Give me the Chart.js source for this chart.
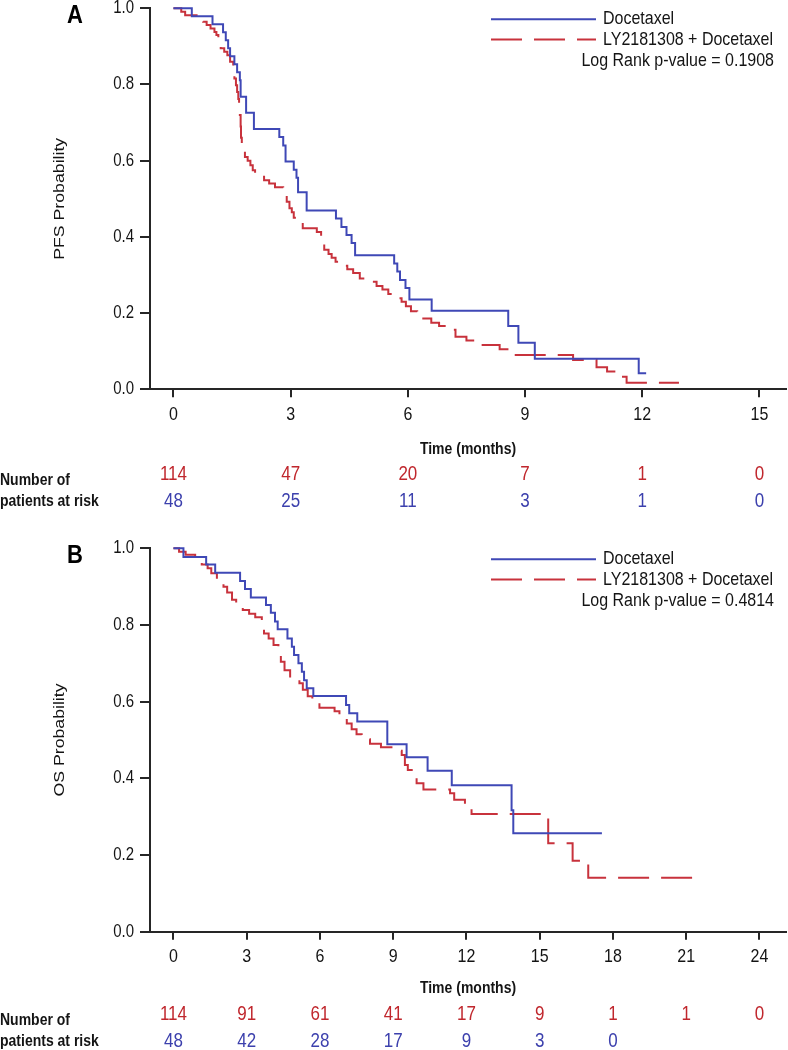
<!DOCTYPE html>
<html><head><meta charset="utf-8">
<script src="https://cdn.jsdelivr.net/npm/chart.js@4.4.1/dist/chart.umd.min.js"></script>
<style>
html,body{margin:0;padding:0;background:#fff;}
#wrap{position:relative;width:788px;height:1050px;overflow:hidden;background:#fff;}
canvas{position:absolute;left:0;}
#cA{top:0;} #cB{top:520px;}
</style></head><body>
<div id="wrap">
<canvas id="cA" width="788" height="520"></canvas>
<canvas id="cB" width="788" height="530"></canvas>
</div>
<script>
// ---------- DATA ----------
const pfsTicks = [0, 3, 6, 9, 12, 15];
const osTicks = [0, 3, 6, 9, 12, 15, 18, 21, 24];
const probTicks = [0, 0.2, 0.4, 0.6, 0.8, 1.0];

const seriesNames = ['Docetaxel', 'LY2181308 + Docetaxel'];
const pfsPValue = 'Log Rank p-value = 0.1908';
const osPValue = 'Log Rank p-value = 0.4814';

// PFS, Docetaxel
const pfsDoceT = [0, 0.47, 1.0, 1.27, 1.34, 1.40, 1.45, 1.56, 1.63, 1.70, 1.72, 1.86, 2.06, 2.71, 2.81, 2.87, 3.08, 3.15, 3.19, 3.41, 4.16, 4.30, 4.43, 4.56, 4.65, 5.65, 5.73, 5.80, 5.94, 6.04, 6.61, 8.57, 8.83, 9.25, 11.91, 12.1];
const pfsDoceS = [1.0, 0.979, 0.958, 0.937, 0.916, 0.895, 0.874, 0.853, 0.832, 0.811, 0.768, 0.726, 0.683, 0.662, 0.640, 0.598, 0.576, 0.555, 0.517, 0.469, 0.448, 0.426, 0.405, 0.384, 0.352, 0.330, 0.309, 0.287, 0.266, 0.236, 0.206, 0.166, 0.122, 0.080, 0.042, 0.042];
// PFS, LY2181308 + Docetaxel
const pfsComboT = [0, 0.2, 0.3, 0.76, 0.85, 0.95, 1.05, 1.10, 1.15, 1.21, 1.30, 1.38, 1.45, 1.53, 1.56, 1.60, 1.63, 1.66, 1.68, 1.70, 1.72, 1.73, 1.75, 1.83, 1.90, 1.97, 2.03, 2.09, 2.32, 2.45, 2.60, 2.81, 2.90, 2.97, 3.03, 3.08, 3.14, 3.31, 3.67, 3.78, 3.86, 3.97, 4.05, 4.15, 4.26, 4.45, 4.60, 4.77, 4.94, 5.20, 5.35, 5.50, 5.63, 5.84, 5.95, 6.08, 6.24, 6.60, 6.80, 7.03, 7.22, 7.50, 7.76, 8.35, 8.61, 10.23, 10.83, 11.10, 11.34, 11.60, 12.94];
const pfsComboS = [1.0, 0.991, 0.982, 0.965, 0.956, 0.947, 0.938, 0.930, 0.921, 0.895, 0.886, 0.877, 0.860, 0.833, 0.816, 0.798, 0.780, 0.762, 0.745, 0.720, 0.690, 0.660, 0.632, 0.610, 0.600, 0.588, 0.575, 0.558, 0.549, 0.540, 0.530, 0.516, 0.492, 0.475, 0.465, 0.450, 0.437, 0.423, 0.413, 0.387, 0.366, 0.355, 0.345, 0.335, 0.324, 0.315, 0.305, 0.291, 0.282, 0.271, 0.262, 0.250, 0.239, 0.230, 0.218, 0.205, 0.186, 0.175, 0.166, 0.156, 0.138, 0.128, 0.116, 0.105, 0.090, 0.077, 0.058, 0.047, 0.033, 0.017, 0.017];

// OS, Docetaxel
const osDoceT = [0, 0.41, 1.34, 1.71, 2.73, 2.93, 3.17, 3.79, 3.99, 4.16, 4.27, 4.67, 4.85, 4.94, 5.12, 5.26, 5.35, 5.46, 5.73, 7.07, 7.20, 7.53, 8.76, 9.55, 10.41, 11.40, 13.85, 13.92, 17.55];
const osDoceS = [1.0, 0.977, 0.958, 0.936, 0.915, 0.894, 0.872, 0.852, 0.832, 0.809, 0.789, 0.765, 0.743, 0.722, 0.700, 0.678, 0.656, 0.635, 0.615, 0.591, 0.570, 0.548, 0.489, 0.455, 0.420, 0.382, 0.317, 0.257, 0.257];
// OS, LY2181308 + Docetaxel
const osComboT = [0, 0.23, 0.5, 0.89, 1.16, 1.4, 1.55, 1.78, 2.05, 2.2, 2.4, 2.57, 2.84, 3.1, 3.35, 3.62, 3.71, 3.9, 4.1, 4.3, 4.4, 4.55, 4.78, 5.16, 5.3, 5.5, 5.69, 5.98, 6.6, 6.8, 7.1, 7.3, 7.5, 7.71, 8.05, 8.5, 9.0, 9.35, 9.48, 9.6, 9.76, 9.96, 10.24, 11.33, 11.5, 11.94, 12.21, 15.35, 16.35, 16.99, 21.56];
const osComboS = [1.0, 0.991, 0.983, 0.972, 0.958, 0.948, 0.935, 0.913, 0.9, 0.885, 0.866, 0.85, 0.839, 0.829, 0.82, 0.809, 0.778, 0.765, 0.748, 0.733, 0.704, 0.682, 0.656, 0.648, 0.631, 0.614, 0.597, 0.584, 0.575, 0.557, 0.543, 0.528, 0.515, 0.502, 0.49, 0.481, 0.472, 0.461, 0.435, 0.422, 0.409, 0.387, 0.371, 0.361, 0.344, 0.326, 0.307, 0.231, 0.185, 0.141, 0.141];

// Number of patients at risk
const pfsRiskCombo = [114, 47, 20, 7, 1, 0];
const pfsRiskDoce = [48, 25, 11, 3, 1, 0];
const osRiskCombo = [114, 91, 61, 41, 17, 9, 1, 1, 0];
const osRiskDoce = [48, 42, 28, 17, 9, 3, 0];

// ---------- STYLE ----------
const BLUE = '#3f48b6';
const RED = '#c8323c';
const RISK_RED = '#c0272d';
const RISK_BLUE = '#3c40ad';
const AXIS = '#262626';
const TXT = '#141414';
const FONT = '"Liberation Sans", Arial, Helvetica, sans-serif';
const SY = 1.18; // vertical stretch of text

function pts(t, s) { return t.map((v, i) => ({ x: v, y: s[i] })); }

function sText(ctx, txt, x, y) {
  ctx.save();
  ctx.translate(x, y);
  ctx.scale(1, SY);
  ctx.fillText(txt, 0, 0);
  ctx.restore();
}

const kmPlugin = {
  id: 'km',
  afterDraw(chart, args, o) {
    const ctx = chart.ctx, ca = chart.chartArea, xs = chart.scales.x, ys = chart.scales.y;
    ctx.save();
    ctx.textBaseline = 'middle';
    // tick labels
    ctx.fillStyle = TXT;
    ctx.font = '15px ' + FONT;
    ctx.textAlign = 'right';
    probTicks.forEach(v => sText(ctx, v.toFixed(1), 134, ys.getPixelForValue(v)));
    ctx.font = '16px ' + FONT;
    ctx.textAlign = 'center';
    o.ticks.forEach(v => sText(ctx, String(v), xs.getPixelForValue(v), ca.bottom + 25.5));
    // panel letter
    ctx.fillStyle = '#000';
    ctx.font = 'bold 22px ' + FONT;
    sText(ctx, o.letter, o.letterX, ca.top + o.letterDY);
    // y title (stretched along its length, like the rest of the text)
    ctx.save();
    ctx.translate(o.yTitleX, (ca.top + ca.bottom) / 2);
    ctx.rotate(-Math.PI / 2);
    ctx.scale(SY, 1);
    ctx.font = '15px ' + FONT;
    ctx.fillStyle = TXT;
    ctx.fillText(o.yTitle, 0, 0);
    ctx.restore();
    // x title
    ctx.font = 'bold 14px ' + FONT;
    ctx.fillStyle = TXT;
    sText(ctx, 'Time (months)', (ca.left + ca.right) / 2, ca.bottom + o.xTitleDY);
    // legend
    const rows = [ca.top + 11, ca.top + 31.3, ca.top + 52.5];
    ctx.lineWidth = 2;
    ctx.strokeStyle = BLUE;
    ctx.setLineDash([]);
    ctx.beginPath(); ctx.moveTo(491, rows[0]); ctx.lineTo(596, rows[0]); ctx.stroke();
    ctx.strokeStyle = RED;
    ctx.setLineDash([31, 12]);
    ctx.beginPath(); ctx.moveTo(491, rows[1]); ctx.lineTo(596, rows[1]); ctx.stroke();
    ctx.setLineDash([]);
    ctx.font = '16px ' + FONT;
    ctx.fillStyle = TXT;
    ctx.textAlign = 'left';
    sText(ctx, seriesNames[0], 603, rows[0]);
    sText(ctx, seriesNames[1], 603, rows[1]);
    ctx.textAlign = 'right';
    sText(ctx, o.pValue, 774, rows[2]);
    // risk table
    ctx.textAlign = 'left';
    ctx.font = 'bold 14px ' + FONT;
    sText(ctx, 'Number of', 0, ca.bottom + o.riskLabelDY1);
    sText(ctx, 'patients at risk', 0, ca.bottom + o.riskDY2);
    ctx.textAlign = 'center';
    ctx.font = '17px ' + FONT;
    ctx.fillStyle = RISK_RED;
    o.riskCombo.forEach((v, i) => sText(ctx, String(v), xs.getPixelForValue(o.ticks[i]), ca.bottom + o.riskDY1));
    ctx.fillStyle = RISK_BLUE;
    o.riskDoce.forEach((v, i) => sText(ctx, String(v), xs.getPixelForValue(o.ticks[i]), ca.bottom + o.riskDY2));
    ctx.restore();
  }
};

function makeChart(id, cfg) {
  const H = cfg.canvasH;
  return new Chart(document.getElementById(id), {
    type: 'line',
    data: {
      datasets: [
        { label: seriesNames[0], data: pts(cfg.doceT, cfg.doceS), borderColor: BLUE, borderWidth: 2, stepped: true, pointRadius: 0, fill: false, clip: 6 },
        { label: seriesNames[1], data: pts(cfg.comboT, cfg.comboS), borderColor: RED, borderWidth: 2, borderDash: [31, 12], stepped: true, pointRadius: 0, fill: false, clip: 6 }
      ]
    },
    options: {
      responsive: false,
      animation: false,
      devicePixelRatio: 1,
      layout: { padding: { top: cfg.top, right: 2, left: 0, bottom: 0 } },
      plugins: {
        legend: { display: false },
        tooltip: { enabled: false },
        km: cfg.km
      },
      scales: {
        x: {
          type: 'linear',
          min: cfg.xMin, max: cfg.xMax,
          afterBuildTicks: s => { s.ticks = cfg.ticks.map(v => ({ value: v })); },
          afterFit: s => { s.height = H - cfg.top - cfg.plotH; },
          ticks: { display: false },
          grid: { drawOnChartArea: false, drawTicks: true, tickLength: 8, color: AXIS, lineWidth: 2 },
          border: { display: true, color: AXIS, width: 2 }
        },
        y: {
          min: 0, max: 1,
          afterBuildTicks: s => { s.ticks = probTicks.map(v => ({ value: v })); },
          afterFit: s => { s.width = 150; },
          ticks: { display: false },
          grid: { drawOnChartArea: false, drawTicks: true, tickLength: 10, color: AXIS, lineWidth: 2 },
          border: { display: true, color: AXIS, width: 2 }
        }
      }
    },
    plugins: [kmPlugin]
  });
}

makeChart('cA', {
  canvasH: 520, top: 8.3, plotH: 381,
  xMin: -0.6, xMax: 15.68, ticks: pfsTicks,
  doceT: pfsDoceT, doceS: pfsDoceS, comboT: pfsComboT, comboS: pfsComboS,
  km: { letter: 'A', letterX: 75, letterDY: 8, yTitle: 'PFS Probability', yTitleX: 60,
        xTitleDY: 60, pValue: pfsPValue, ticks: pfsTicks,
        riskCombo: pfsRiskCombo, riskDoce: pfsRiskDoce,
        riskDY1: 85, riskLabelDY1: 91, riskDY2: 112.5 }
});

makeChart('cB', {
  canvasH: 530, top: 28.3, plotH: 383.4,
  xMin: -0.96, xMax: 25.09, ticks: osTicks,
  doceT: osDoceT, doceS: osDoceS, comboT: osComboT, comboS: osComboS,
  km: { letter: 'B', letterX: 75, letterDY: 8, yTitle: 'OS Probability', yTitleX: 60,
        xTitleDY: 56.6, pValue: osPValue, ticks: osTicks,
        riskCombo: osRiskCombo, riskDoce: osRiskDoce,
        riskDY1: 82.6, riskLabelDY1: 89, riskDY2: 109.3 }
});
</script>
</body></html>
